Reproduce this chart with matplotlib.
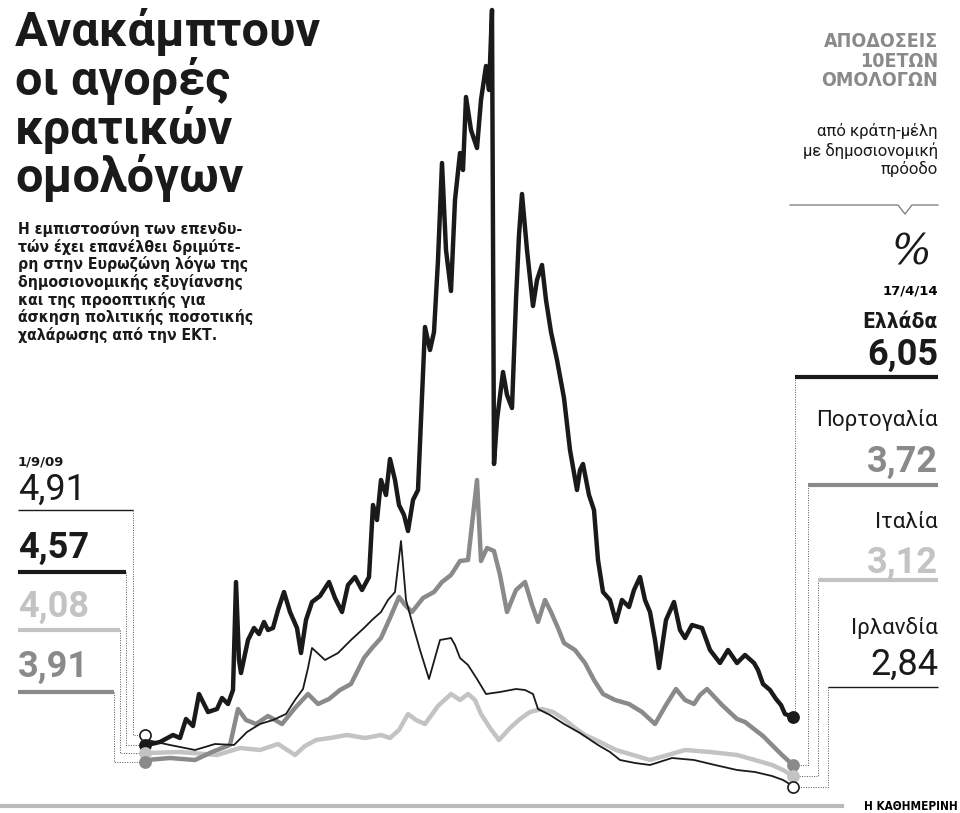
import matplotlib
matplotlib.use("Agg")
import matplotlib.pyplot as plt
from matplotlib import font_manager as fm

names = {f.name for f in fm.fontManager.ttflist}
NARROW = 'Liberation Sans Narrow' if 'Liberation Sans Narrow' in names else 'Roboto'
FAM = [NARROW, 'DejaVu Sans']
BFAM = ['DejaVu Sans']

# Series (x: horizontal position, y: plotted height, screen units)
greece_x = [147,160,173,180,186,193,199,208,217,222,228,233,236,239,241,248,254,259,264,268,273,278,284,290,297,301,306,312,320,329,335,342,348,355,362,369,373,377,381,386,390,395,399,404,408,413,418,421,425,430,434,438,442,446,451,455,460,463,466,471,477,481,486,489,492,494,497,503,507,512,516,519,522,527,533,537,542,546,551,557,564,570,577,580,583,589,594,598,603,610,616,622,629,634,640,645,650,655,659,666,674,680,685,692,702,710,720,728,737,745,754,758,763,770,776,781,785,793]
greece_y = [745,742,735,738,719,726,694,712,709,698,704,690,582,660,673,640,628,634,622,630,628,610,592,612,628,653,620,602,596,582,598,612,585,577,590,577,505,520,480,495,459,480,505,515,531,500,490,420,327,350,332,260,163,250,291,200,153,170,97,130,148,100,66,90,10,464,420,372,395,408,300,235,194,250,306,280,265,300,332,360,398,450,490,470,464,495,510,560,592,600,622,600,607,590,577,600,612,640,668,620,602,630,638,625,628,650,663,650,663,655,663,670,684,690,699,705,714,717]
ireland_x = [147,170,195,215,234,247,260,273,286,295,303,308,312,325,338,351,364,372,381,388,395,401,406,412,420,429,440,451,455,460,468,477,486,500,516,525,533,538,550,564,580,598,610,620,635,650,672,694,715,737,755,772,783,793]
ireland_y = [740,745,750,744,745,732,724,720,714,700,689,668,648,660,653,640,628,620,612,600,592,541,600,622,650,679,640,638,645,658,665,679,694,692,689,690,694,709,715,724,733,745,752,760,763,765,758,760,765,770,772,776,780,786]
portugal_x = [147,170,195,212,230,238,246,256,268,282,295,308,318,329,340,351,358,364,372,381,390,399,405,412,423,434,442,451,460,468,477,481,487,494,500,507,516,525,532,538,545,551,558,564,575,585,594,603,615,629,642,655,666,676,685,694,700,707,722,737,745,754,763,772,782,793]
portugal_y = [760,758,760,752,745,709,720,724,716,724,708,694,704,699,690,684,670,658,648,638,618,597,605,612,598,592,582,575,561,560,480,561,548,551,575,612,590,582,605,622,600,612,628,643,650,663,680,694,700,704,712,724,705,689,700,704,695,689,705,719,722,729,736,745,755,765]
italy_x = [147,180,217,240,260,278,295,305,316,330,347,365,381,390,399,408,416,425,438,451,460,468,475,481,490,499,510,520,530,542,553,564,575,585,600,616,633,650,668,685,710,737,755,772,783,793]
italy_y = [753,752,755,748,750,744,755,746,740,738,735,738,735,738,730,714,720,724,706,694,700,694,700,714,728,740,728,719,712,709,712,719,728,735,742,750,755,760,755,750,752,755,760,765,770,776]

start_labels = ["4,91", "4,57", "4,08", "3,91"]
end_labels = ["6,05", "3,72", "3,12", "2,84"]
end_countries = ["Ελλάδα", "Πορτογαλία", "Ιταλία", "Ιρλανδία"]

BLACK, GRAY, LGRAY = '#1a1a1a', '#8a8a8a', '#c3c3c3'

fig = plt.figure(figsize=(9.6, 8.13), dpi=100)
ax = fig.add_axes([0, 0, 1, 1])
ax.set_xlim(0, 960); ax.set_ylim(813, 0); ax.axis('off')

ax.plot(italy_x, italy_y, color=LGRAY, lw=3.2, zorder=2)
ax.plot(portugal_x, portugal_y, color=GRAY, lw=3.2, zorder=3)
ax.plot(ireland_x, ireland_y, color=BLACK, lw=1.3, zorder=4)
ax.plot(greece_x, greece_y, color=BLACK, lw=3.2, zorder=5)

dots_s = [(735, 'white', BLACK), (745, BLACK, BLACK), (753, LGRAY, LGRAY), (762, GRAY, GRAY)]
for y, fc, ec in dots_s:
    ax.plot([145], [y], 'o', ms=8, mfc=fc, mec=ec, mew=1.2, zorder=6)
dots_e = [(717, BLACK, BLACK), (765, GRAY, GRAY), (776, LGRAY, LGRAY), (787, 'white', BLACK)]
for y, fc, ec in dots_e:
    ax.plot([793], [y], 'o', ms=8, mfc=fc, mec=ec, mew=1.2, zorder=6)

ax.text(15, 8, "Ανακάμπτουν\nοι αγορές\nκρατικών\nομολόγων", family=FAM, fontsize=35,
        weight='bold', va='top', ha='left', linespacing=1.02, color=BLACK)
sub = ("Η εμπιστοσύνη των επενδυ-\nτών έχει επανέλθει δριμύτε-\nρη στην Ευρωζώνη λόγω της\n"
       "δημοσιονομικής εξυγίανσης\nκαι της προοπτικής για\nάσκηση πολιτικής ποσοτικής\nχαλάρωσης από την ΕΚΤ.")
ax.text(18, 221, sub, family=BFAM, fontsize=11.3, weight='bold', stretch='condensed',
        va='top', ha='left', linespacing=1.13, color=BLACK)

ax.text(18, 462, "1/9/09", family=BFAM, fontsize=9.5, weight='bold', va='center', color=BLACK)
left = [(490, 510, BLACK, 'normal', 1.0, 133, 735),
        (548, 572, BLACK, 'bold', 3.0, 126, 745),
        (607, 630, LGRAY, 'bold', 3.0, 120, 753),
        (667, 692, GRAY, 'bold', 3.0, 114, 762)]
for (ty, ly, c, w, lw, xe, dy), lab in zip(left, start_labels):
    ax.text(18, ty, lab, family=FAM, fontsize=26, weight=w, color=c, va='center')
    ax.plot([18, xe], [ly, ly], color=c, lw=lw, solid_capstyle='butt')
    ax.plot([xe, xe, 145], [ly, dy, dy], color='#555555', lw=0.7, ls=(0, (1, 1.5)), zorder=1)

ax.text(938, 32, "ΑΠΟΔΟΣΕΙΣ\n10ΕΤΩΝ\nΟΜΟΛΟΓΩΝ", family=BFAM, fontsize=14, weight='bold',
        stretch='condensed', color=GRAY, ha='right', va='top', linespacing=1.05)
ax.text(938, 123, "από κράτη-μέλη\nμε δημοσιονομική\nπρόοδο", family=FAM, fontsize=12,
        color=BLACK, ha='right', va='top', linespacing=1.2)
ax.plot([790, 898, 905, 912, 938], [205, 205, 214, 205, 205], color='#777777', lw=0.9)
ax.text(912, 252, "%", family=['DejaVu Serif'], fontsize=30, style='italic', color=BLACK,
        ha='center', va='center')
ax.text(938, 291, "17/4/14", family=BFAM, fontsize=9.5, weight='bold', ha='right', va='center')
right = [(322, 355, 377, BLACK, 'bold', 'bold', 3.0, 795, 717),
         (420, 462, 485, GRAY, 'normal', 'bold', 3.0, 808, 765),
         (522, 563, 580, LGRAY, 'normal', 'bold', 3.0, 818, 776),
         (628, 665, 687, BLACK, 'normal', 'normal', 1.0, 828, 787)]
for (cy, vy, ly, c, cw, vw, lw, xs, dy), lab, cn in zip(right, end_labels, end_countries):
    fam = BFAM if cw == 'bold' else FAM
    ax.text(938, cy, cn, family=fam, fontsize=15 if cw == 'bold' else 16, weight=cw,
            stretch='condensed', color=BLACK, ha='right', va='center')
    ax.text(938, vy, lab, family=FAM, fontsize=26, weight=vw, color=c, ha='right', va='center')
    ax.plot([xs, 938], [ly, ly], color=c, lw=lw, solid_capstyle='butt')
    ax.plot([xs, xs, 793], [ly, dy, dy], color='#555555', lw=0.7, ls=(0, (1, 1.5)), zorder=1)

ax.plot([0, 842], [806, 806], color='#bbbbbb', lw=3)
ax.text(958, 806, "Η ΚΑΘΗΜΕΡΙΝΗ", family=BFAM, fontsize=8.5, weight='bold',
        stretch='condensed', ha='right', va='center')

fig.savefig("out.png", dpi=100)
